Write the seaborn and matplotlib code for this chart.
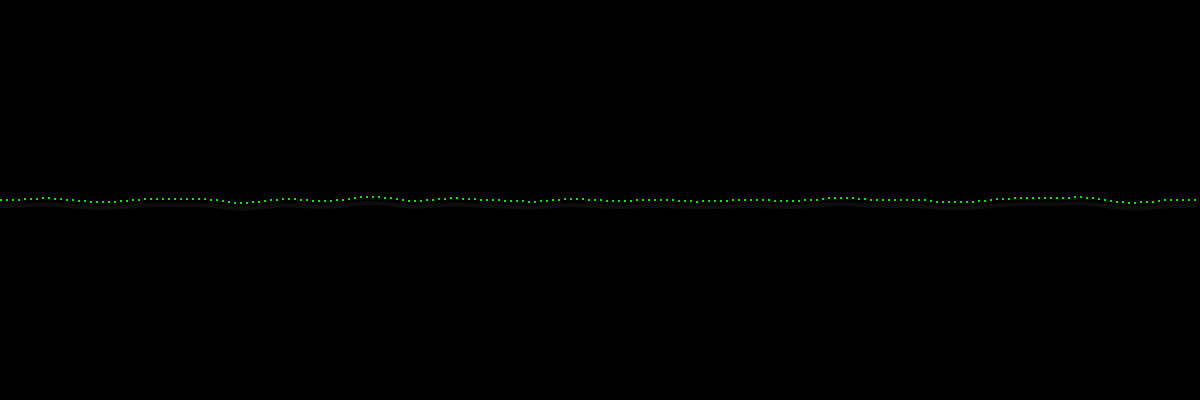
import matplotlib
matplotlib.use("Agg")
import matplotlib.pyplot as plt
import seaborn as sns
import numpy as np
import pandas as pd

seg1 = [0,0,0,0,1,1,1,2,2,1,1,0,0,-1,-1,-2,-2,-2,-2,-2,-1,-1,0,0,1,1,1,1,1,1,1,1,1,1]
seg2 = [1,0,0,-1,-2,-3,-3,-3,-2,-2,-1,0,0,1,1,1,0,0,-1,-1,-1,-1,0,0,1,2,3,3,3,3,2,2,1]
seg3 = [0,-1,-1,-1,0,0,1,1,2,2,1,1,1,0,0,0,0,-1,-1,-1,-1,-2,-2,-1,-1,0,0,1,1,1,1,0,0]
seg4 = [0,-1,-1,-1,-1,-1,0,0,0,0,0,0,0,-1,-1,-1,-2,-1,-1,-1,-1,-1,0,0,0,0,0,0,0,-1,-1,-1,-1,-1]
seg5 = [0,0,0,1,2,2,2,2,2,1,1,0,0,0,0,0,0,0,0,0,0,-1,-2,-2,-2,-2,-2,-2,-2,-1,-1,0,1]
seg6 = [1,1,2,2,2,2,2,2,2,2,2,2,3,3,2,2,1,0,-1,-2,-2,-3,-3,-2,-2,-2,-1,0,0,0,0,0,0]

values = seg1 + seg2 + seg3 + seg4 + seg5 + seg6
index = list(range(len(values)))
df = pd.DataFrame({"i": index, "v": values})

sns.set_theme(style="dark")
fig = plt.figure(figsize=(12, 4), dpi=100, facecolor="black")
ax = fig.add_axes([0, 0, 1, 1])
ax.set_facecolor("black")

# very faint shadow band below the dots
shadow = df.assign(v=df["v"].rolling(5, center=True, min_periods=1).mean() - 6)
sns.lineplot(data=shadow, x="i", y="v", ax=ax, color="#0d0d0d", linewidth=3, zorder=1)

sns.scatterplot(data=df, x="i", y="v", ax=ax, color="#00e600", s=4, marker="s",
                linewidth=0, zorder=3)

ax.set_xlim(-0.7 / 6, (1200 - 0.7) / 6)
ax.set_ylim(-200, 200)
ax.set_axis_off()
fig.savefig("out.png", dpi=100, facecolor="black")
